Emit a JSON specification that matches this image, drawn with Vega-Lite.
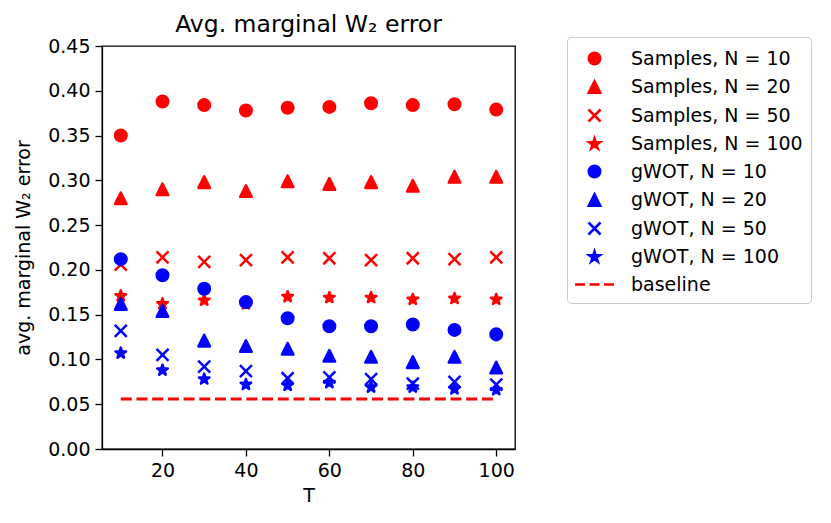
{
  "$schema": "https://vega.github.io/schema/vega-lite/v6.json",
  "autosize": "none",
  "width": 413,
  "height": 403,
  "padding": {"left": 102, "top": 46, "right": 316, "bottom": 74},
  "background": "white",
  "config": {
    "font": "DejaVu Sans",
    "view": {"stroke": "black", "strokeWidth": 1.3},
    "axis": {
      "grid": false,
      "domainColor": "black",
      "domainWidth": 1.3,
      "tickColor": "black",
      "tickWidth": 1.3,
      "tickSize": 7,
      "labelFont": "DejaVu Sans",
      "labelFontSize": 19,
      "labelColor": "black",
      "labelPadding": 5,
      "titleFont": "DejaVu Sans",
      "titleFontSize": 19,
      "titleFontWeight": "normal",
      "titleColor": "black"
    },
    "axisY": {"titlePadding": 14},
    "axisX": {"titlePadding": 6},
    "title": {"font": "DejaVu Sans", "fontSize": 23.5, "fontWeight": "normal", "color": "black"}
  },
  "title": {"text": "Avg. marginal W₂ error", "frame": "group", "offset": 0},
  "layer": [
    {
      "data": {
        "values": [
          {"T": 10, "v": 0.350, "series": "Samples, N = 10"},
          {"T": 20, "v": 0.388, "series": "Samples, N = 10"},
          {"T": 30, "v": 0.384, "series": "Samples, N = 10"},
          {"T": 40, "v": 0.378, "series": "Samples, N = 10"},
          {"T": 50, "v": 0.381, "series": "Samples, N = 10"},
          {"T": 60, "v": 0.382, "series": "Samples, N = 10"},
          {"T": 70, "v": 0.386, "series": "Samples, N = 10"},
          {"T": 80, "v": 0.384, "series": "Samples, N = 10"},
          {"T": 90, "v": 0.385, "series": "Samples, N = 10"},
          {"T": 100, "v": 0.379, "series": "Samples, N = 10"},
          {"T": 10, "v": 0.280, "series": "Samples, N = 20"},
          {"T": 20, "v": 0.290, "series": "Samples, N = 20"},
          {"T": 30, "v": 0.298, "series": "Samples, N = 20"},
          {"T": 40, "v": 0.288, "series": "Samples, N = 20"},
          {"T": 50, "v": 0.299, "series": "Samples, N = 20"},
          {"T": 60, "v": 0.296, "series": "Samples, N = 20"},
          {"T": 70, "v": 0.298, "series": "Samples, N = 20"},
          {"T": 80, "v": 0.294, "series": "Samples, N = 20"},
          {"T": 90, "v": 0.304, "series": "Samples, N = 20"},
          {"T": 100, "v": 0.304, "series": "Samples, N = 20"},
          {"T": 10, "v": 0.206, "series": "Samples, N = 50"},
          {"T": 20, "v": 0.214, "series": "Samples, N = 50"},
          {"T": 30, "v": 0.209, "series": "Samples, N = 50"},
          {"T": 40, "v": 0.211, "series": "Samples, N = 50"},
          {"T": 50, "v": 0.214, "series": "Samples, N = 50"},
          {"T": 60, "v": 0.213, "series": "Samples, N = 50"},
          {"T": 70, "v": 0.211, "series": "Samples, N = 50"},
          {"T": 80, "v": 0.213, "series": "Samples, N = 50"},
          {"T": 90, "v": 0.212, "series": "Samples, N = 50"},
          {"T": 100, "v": 0.214, "series": "Samples, N = 50"},
          {"T": 10, "v": 0.171, "series": "Samples, N = 100"},
          {"T": 20, "v": 0.162, "series": "Samples, N = 100"},
          {"T": 30, "v": 0.166, "series": "Samples, N = 100"},
          {"T": 40, "v": 0.162, "series": "Samples, N = 100"},
          {"T": 50, "v": 0.170, "series": "Samples, N = 100"},
          {"T": 60, "v": 0.169, "series": "Samples, N = 100"},
          {"T": 70, "v": 0.169, "series": "Samples, N = 100"},
          {"T": 80, "v": 0.167, "series": "Samples, N = 100"},
          {"T": 90, "v": 0.168, "series": "Samples, N = 100"},
          {"T": 100, "v": 0.167, "series": "Samples, N = 100"},
          {"T": 10, "v": 0.212, "series": "gWOT, N = 10"},
          {"T": 20, "v": 0.194, "series": "gWOT, N = 10"},
          {"T": 30, "v": 0.179, "series": "gWOT, N = 10"},
          {"T": 40, "v": 0.164, "series": "gWOT, N = 10"},
          {"T": 50, "v": 0.146, "series": "gWOT, N = 10"},
          {"T": 60, "v": 0.137, "series": "gWOT, N = 10"},
          {"T": 70, "v": 0.137, "series": "gWOT, N = 10"},
          {"T": 80, "v": 0.139, "series": "gWOT, N = 10"},
          {"T": 90, "v": 0.133, "series": "gWOT, N = 10"},
          {"T": 100, "v": 0.128, "series": "gWOT, N = 10"},
          {"T": 10, "v": 0.162, "series": "gWOT, N = 20"},
          {"T": 20, "v": 0.154, "series": "gWOT, N = 20"},
          {"T": 30, "v": 0.121, "series": "gWOT, N = 20"},
          {"T": 40, "v": 0.115, "series": "gWOT, N = 20"},
          {"T": 50, "v": 0.112, "series": "gWOT, N = 20"},
          {"T": 60, "v": 0.104, "series": "gWOT, N = 20"},
          {"T": 70, "v": 0.103, "series": "gWOT, N = 20"},
          {"T": 80, "v": 0.097, "series": "gWOT, N = 20"},
          {"T": 90, "v": 0.103, "series": "gWOT, N = 20"},
          {"T": 100, "v": 0.091, "series": "gWOT, N = 20"},
          {"T": 10, "v": 0.132, "series": "gWOT, N = 50"},
          {"T": 20, "v": 0.105, "series": "gWOT, N = 50"},
          {"T": 30, "v": 0.092, "series": "gWOT, N = 50"},
          {"T": 40, "v": 0.087, "series": "gWOT, N = 50"},
          {"T": 50, "v": 0.079, "series": "gWOT, N = 50"},
          {"T": 60, "v": 0.080, "series": "gWOT, N = 50"},
          {"T": 70, "v": 0.078, "series": "gWOT, N = 50"},
          {"T": 80, "v": 0.073, "series": "gWOT, N = 50"},
          {"T": 90, "v": 0.075, "series": "gWOT, N = 50"},
          {"T": 100, "v": 0.072, "series": "gWOT, N = 50"},
          {"T": 10, "v": 0.107, "series": "gWOT, N = 100"},
          {"T": 20, "v": 0.088, "series": "gWOT, N = 100"},
          {"T": 30, "v": 0.078, "series": "gWOT, N = 100"},
          {"T": 40, "v": 0.072, "series": "gWOT, N = 100"},
          {"T": 50, "v": 0.071, "series": "gWOT, N = 100"},
          {"T": 60, "v": 0.074, "series": "gWOT, N = 100"},
          {"T": 70, "v": 0.069, "series": "gWOT, N = 100"},
          {"T": 80, "v": 0.069, "series": "gWOT, N = 100"},
          {"T": 90, "v": 0.067, "series": "gWOT, N = 100"},
          {"T": 100, "v": 0.066, "series": "gWOT, N = 100"}
        ]
      },
      "mark": {"type": "point", "filled": true, "opacity": 1, "size": 576, "strokeWidth": 2.5, "strokeJoin": "round"},
      "encoding": {
        "x": {
          "field": "T", "type": "quantitative", "title": "T",
          "scale": {"domain": [5.5, 104.5], "nice": false, "zero": false},
          "axis": {"values": [20, 40, 60, 80, 100]}
        },
        "y": {
          "field": "v", "type": "quantitative", "title": "avg. marginal W₂ error",
          "scale": {"domain": [0, 0.45], "nice": false},
          "axis": {"values": [0, 0.05, 0.1, 0.15, 0.2, 0.25, 0.3, 0.35, 0.4, 0.45], "format": ".2f"}
        },
        "fill": {
          "field": "series", "type": "nominal",
          "scale": {
            "domain": ["Samples, N = 10", "Samples, N = 20", "Samples, N = 50", "Samples, N = 100", "gWOT, N = 10", "gWOT, N = 20", "gWOT, N = 50", "gWOT, N = 100", "baseline"],
            "range": ["#ff0000", "#ff0000", "#ff0000", "#ff0000", "#0000ff", "#0000ff", "#0000ff", "#0000ff", "transparent"]
          },
          "legend": {
            "title": null, "orient": "none", "legendX": 465, "legendY": -9,
            "padding": 8, "symbolSize": 576, "symbolStrokeWidth": 2.5, "symbolOffset": 6,
            "labelOffset": 23, "labelFontSize": 19, "labelFont": "DejaVu Sans", "labelColor": "black",
            "labelLimit": 400, "rowPadding": 3.5, "strokeColor": "#cccccc", "fillColor": "white", "cornerRadius": 4
          }
        },
        "stroke": {
          "field": "series", "type": "nominal",
          "scale": {
            "domain": ["Samples, N = 10", "Samples, N = 20", "Samples, N = 50", "Samples, N = 100", "gWOT, N = 10", "gWOT, N = 20", "gWOT, N = 50", "gWOT, N = 100", "baseline"],
            "range": ["#ff0000", "#ff0000", "#ff0000", "#ff0000", "#0000ff", "#0000ff", "#0000ff", "#0000ff", "#ff0000"]
          }
        },
        "shape": {
          "field": "series", "type": "nominal",
          "scale": {
            "domain": ["Samples, N = 10", "Samples, N = 20", "Samples, N = 50", "Samples, N = 100", "gWOT, N = 10", "gWOT, N = 20", "gWOT, N = 50", "gWOT, N = 100", "baseline"],
            "range": [
              "M0.48,0A0.48,0.48 0 1,1 -0.48,0A0.48,0.48 0 1,1 0.48,0Z",
              "M0,-0.48L-0.48,0.48L0.48,0.48Z",
              "M-0.5,-0.5L0.5,0.5M-0.5,0.5L0.5,-0.5",
              "M0,-0.46L0.1033,-0.1421L0.4375,-0.1421L0.1671,0.0543L0.2704,0.3721L0,0.1757L-0.2704,0.3721L-0.1671,0.0543L-0.4375,-0.1421L-0.1033,-0.1421Z",
              "M0.48,0A0.48,0.48 0 1,1 -0.48,0A0.48,0.48 0 1,1 0.48,0Z",
              "M0,-0.48L-0.48,0.48L0.48,0.48Z",
              "M-0.5,-0.5L0.5,0.5M-0.5,0.5L0.5,-0.5",
              "M0,-0.46L0.1033,-0.1421L0.4375,-0.1421L0.1671,0.0543L0.2704,0.3721L0,0.1757L-0.2704,0.3721L-0.1671,0.0543L-0.4375,-0.1421L-0.1033,-0.1421Z",
              "M-1.625,0H-0.792M-0.417,0H0.417M0.792,0H1.625"
            ]
          }
        }
      }
    },
    {
      "data": {"values": [{"T": 10, "v": 0.0557}, {"T": 100, "v": 0.0557}]},
      "mark": {"type": "line", "color": "#ff0000", "strokeWidth": 3, "strokeDash": [11, 4.7]},
      "encoding": {
        "x": {"field": "T", "type": "quantitative"},
        "y": {"field": "v", "type": "quantitative"}
      }
    }
  ]
}
